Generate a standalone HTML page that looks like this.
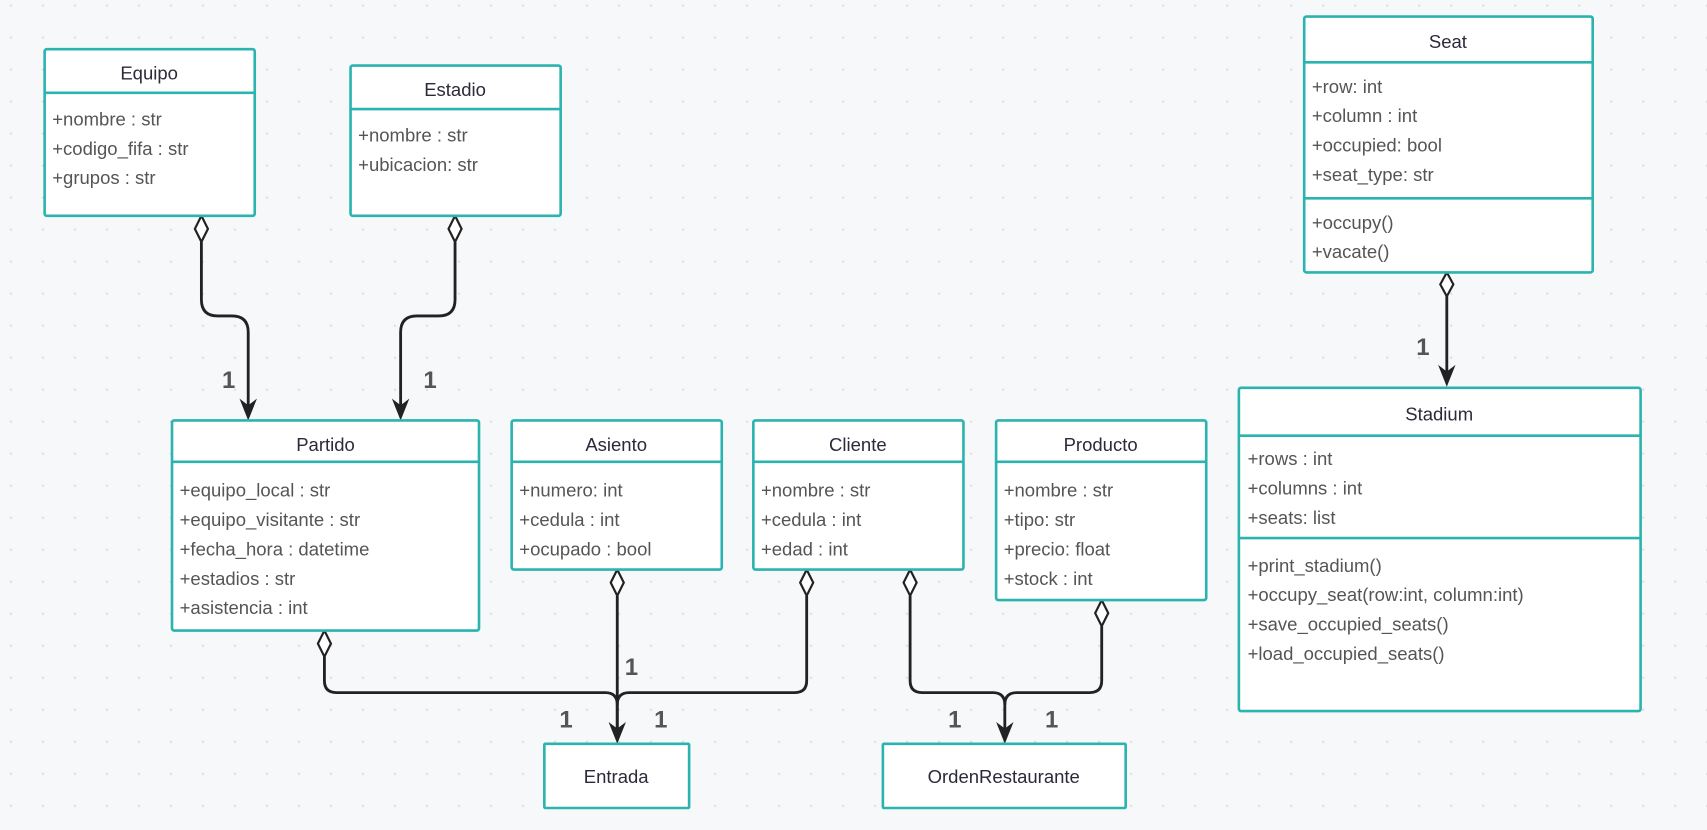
<!DOCTYPE html>
<html><head><meta charset="utf-8"><style>
html,body{margin:0;padding:0;background:#f7f8fa;}
svg{display:block;}
text{font-family:"Liberation Sans",sans-serif;}
.t{font-size:17px;fill:#2a2a3a;text-anchor:middle;}
.a{font-size:17px;fill:#555;}
.b{fill:#fff;stroke:#2bb3b0;stroke-width:2.4;}
.l{stroke:#2bb3b0;stroke-width:2.4;}
.c{fill:none;stroke:#222;stroke-width:2.6;}
.d{fill:#fff;stroke:#222;stroke-width:2;}
.n{font-size:22px;font-weight:bold;fill:#555;text-anchor:middle;}
</style></head><body>
<svg width="1707" height="830" viewBox="0 0 1568 762" xmlns="http://www.w3.org/2000/svg">
<defs>
<pattern id="g" width="29.4" height="29.4" patternUnits="userSpaceOnUse" x="8" y="3"><circle cx="2" cy="2" r="1.1" fill="#dcdde2"/></pattern>
<marker id="ar" viewBox="0 0 12 14" refX="6" refY="13" markerWidth="12" markerHeight="14" markerUnits="userSpaceOnUse" orient="auto-start-reverse"></marker>
</defs>
<rect width="1568" height="762" fill="#f7f8fa"/>
<rect width="1568" height="762" fill="url(#g)"/>

<!-- connectors -->
<g class="c">
<path d="M185 222 V275 Q185 290 200 290 H213 Q228 290 228 305 V380"/>
<path d="M418 222 V275 Q418 290 403 290 H383 Q368 290 368 305 V380"/>
<path d="M1329 272 V350"/>
<path d="M298 603 V625 Q298 636 309 636 H556 Q567 636 567 647 V678"/>
<path d="M567 547 V678"/>
<path d="M741 547 V625 Q741 636 730 636 H578 Q567 636 567 647"/>
<path d="M836 547 V625 Q836 636 847 636 H912 Q923 636 923 647 V678"/>
<path d="M1012 575 V625 Q1012 636 1001 636 H934 Q923 636 923 647"/>
</g>
<g fill="#222">
<path d="M228 386 L220 366 L228 372 L236 366 Z"/>
<path d="M368 386 L360 366 L368 372 L376 366 Z"/>
<path d="M1329 355 L1321 335 L1329 341 L1337 335 Z"/>
<path d="M567 683 L559 663 L567 669 L575 663 Z"/>
<path d="M923 683 L915 663 L923 669 L931 663 Z"/>
</g>
<g class="d">
<path d="M185 198 L191 210 L185 222 L179 210 Z"/>
<path d="M418 198 L424 210 L418 222 L412 210 Z"/>
<path d="M1329 250 L1335 261 L1329 272 L1323 261 Z"/>
<path d="M298 579 L304 591 L298 603 L292 591 Z"/>
<path d="M567 523 L573 535 L567 547 L561 535 Z"/>
<path d="M741 523 L747 535 L741 547 L735 535 Z"/>
<path d="M836 523 L842 535 L836 547 L830 535 Z"/>
<path d="M1012 551 L1018 563 L1012 575 L1006 563 Z"/>
</g>
<text class="n" x="210" y="356">1</text>
<text class="n" x="395" y="356">1</text>
<text class="n" x="1307" y="326">1</text>
<text class="n" x="580" y="620">1</text>
<text class="n" x="520" y="668">1</text>
<text class="n" x="607" y="668">1</text>
<text class="n" x="877" y="668">1</text>
<text class="n" x="966" y="668">1</text>

<!-- Equipo -->
<rect class="b" x="41" y="45" width="193" height="153" rx="2"/>
<line class="l" x1="41" y1="85" x2="234" y2="85"/>
<text class="t" x="137" y="73">Equipo</text>
<text class="a" x="48" y="115">+nombre : str</text>
<text class="a" x="48" y="142">+codigo_fifa : str</text>
<text class="a" x="48" y="169">+grupos : str</text>

<!-- Estadio -->
<rect class="b" x="322" y="60" width="193" height="138" rx="2"/>
<line class="l" x1="322" y1="100" x2="515" y2="100"/>
<text class="t" x="418" y="88">Estadio</text>
<text class="a" x="329" y="130">+nombre : str</text>
<text class="a" x="329" y="157">+ubicacion: str</text>

<!-- Seat -->
<rect class="b" x="1198" y="15" width="265" height="235" rx="2"/>
<line class="l" x1="1198" y1="57" x2="1463" y2="57"/>
<line class="l" x1="1198" y1="182" x2="1463" y2="182"/>
<text class="t" x="1330" y="44">Seat</text>
<text class="a" x="1205" y="85">+row: int</text>
<text class="a" x="1205" y="112">+column : int</text>
<text class="a" x="1205" y="139">+occupied: bool</text>
<text class="a" x="1205" y="166">+seat_type: str</text>
<text class="a" x="1205" y="210">+occupy()</text>
<text class="a" x="1205" y="237">+vacate()</text>

<!-- Stadium -->
<rect class="b" x="1138" y="356" width="369" height="297" rx="2"/>
<line class="l" x1="1138" y1="400" x2="1507" y2="400"/>
<line class="l" x1="1138" y1="494" x2="1507" y2="494"/>
<text class="t" x="1322" y="386">Stadium</text>
<text class="a" x="1146" y="427">+rows : int</text>
<text class="a" x="1146" y="454">+columns : int</text>
<text class="a" x="1146" y="481">+seats: list</text>
<text class="a" x="1146" y="525">+print_stadium()</text>
<text class="a" x="1146" y="552">+occupy_seat(row:int, column:int)</text>
<text class="a" x="1146" y="579">+save_occupied_seats()</text>
<text class="a" x="1146" y="606">+load_occupied_seats()</text>

<!-- Partido -->
<rect class="b" x="158" y="386" width="282" height="193" rx="2"/>
<line class="l" x1="158" y1="424" x2="440" y2="424"/>
<text class="t" x="299" y="414">Partido</text>
<text class="a" x="165" y="456">+equipo_local : str</text>
<text class="a" x="165" y="483">+equipo_visitante : str</text>
<text class="a" x="165" y="510">+fecha_hora : datetime</text>
<text class="a" x="165" y="537">+estadios : str</text>
<text class="a" x="165" y="564">+asistencia : int</text>

<!-- Asiento -->
<rect class="b" x="470" y="386" width="193" height="137" rx="2"/>
<line class="l" x1="470" y1="424" x2="663" y2="424"/>
<text class="t" x="566" y="414">Asiento</text>
<text class="a" x="477" y="456">+numero: int</text>
<text class="a" x="477" y="483">+cedula : int</text>
<text class="a" x="477" y="510">+ocupado : bool</text>

<!-- Cliente -->
<rect class="b" x="692" y="386" width="193" height="137" rx="2"/>
<line class="l" x1="692" y1="424" x2="885" y2="424"/>
<text class="t" x="788" y="414">Cliente</text>
<text class="a" x="699" y="456">+nombre : str</text>
<text class="a" x="699" y="483">+cedula : int</text>
<text class="a" x="699" y="510">+edad : int</text>

<!-- Producto -->
<rect class="b" x="915" y="386" width="193" height="165" rx="2"/>
<line class="l" x1="915" y1="424" x2="1108" y2="424"/>
<text class="t" x="1011" y="414">Producto</text>
<text class="a" x="922" y="456">+nombre : str</text>
<text class="a" x="922" y="483">+tipo: str</text>
<text class="a" x="922" y="510">+precio: float</text>
<text class="a" x="922" y="537">+stock : int</text>

<!-- Entrada / OrdenRestaurante -->
<rect class="b" x="500" y="683" width="133" height="59" rx="1"/>
<text class="t" x="566" y="719">Entrada</text>
<rect class="b" x="811" y="683" width="223" height="59" rx="1"/>
<text class="t" x="922" y="719">OrdenRestaurante</text>
</svg>
</body></html>
